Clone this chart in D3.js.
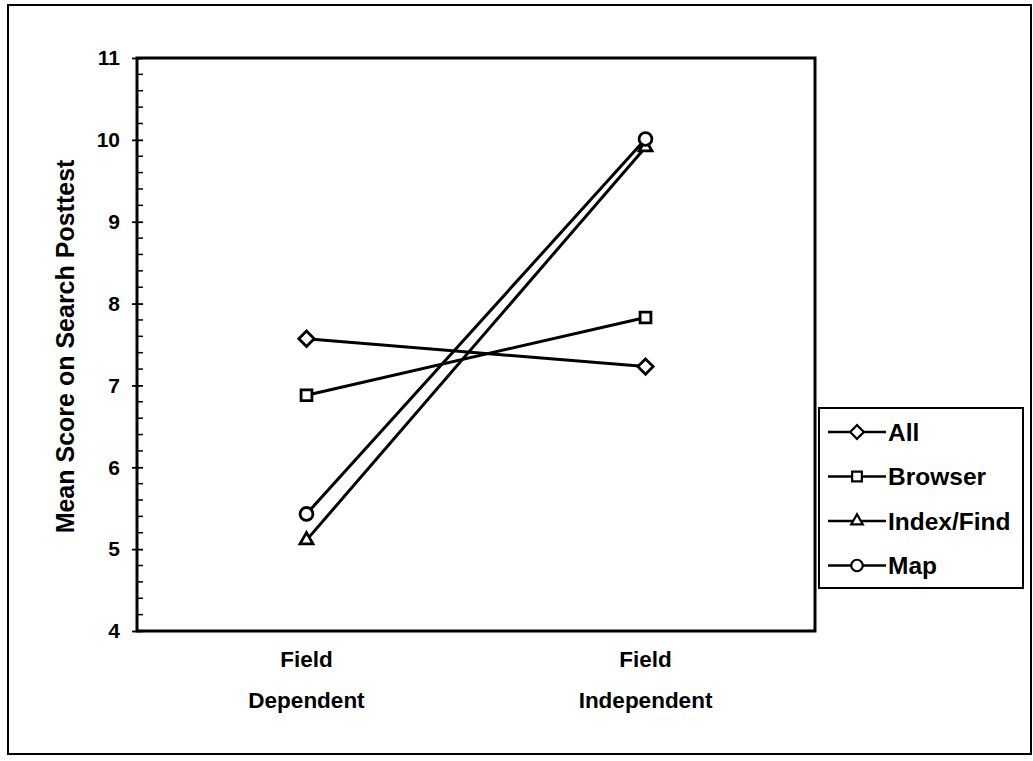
<!DOCTYPE html>
<html><head><meta charset="utf-8">
<script src="https://cdn.jsdelivr.net/npm/d3@7"></script>
<style>body{margin:0;background:#fff}svg{display:block}text{font-family:"Liberation Sans",Arial,sans-serif;font-weight:bold;fill:#000}</style>
</head><body><svg id="c" width="1033" height="761"></svg>
<script>
const categories = ["Field\nDependent", "Field\nIndependent"];
const seriesNames = ["All", "Browser", "Index/Find", "Map"];
const seriesSymbols = ["diamond", "square", "triangle", "circle"];
const allValues = [7.57, 7.23];
const browserValues = [6.88, 7.83];
const indexFindValues = [5.11, 9.91];
const mapValues = [5.43, 10.01];
const yTicks = [4, 5, 6, 7, 8, 9, 10, 11];
const series = [allValues, browserValues, indexFindValues, mapValues];

const svg = d3.select("#c");
const L = 137, R = 815, T = 58, B = 631;
svg.append("rect").attr("x", 8).attr("y", 5).attr("width", 1023).attr("height", 749)
  .attr("fill", "none").attr("stroke", "#000").attr("stroke-width", 2);

const x = d3.scaleBand().domain(categories).range([L, R]).padding(0);
const y = d3.scaleLinear().domain([4, 11]).range([B, T]);

// plot box
svg.append("rect").attr("x", L).attr("y", T).attr("width", R - L).attr("height", B - T)
  .attr("fill", "none").attr("stroke", "#000").attr("stroke-width", 3);

// minor ticks (inside)
const minor = d3.range(4, 11.001, 0.2).filter(v => Math.abs(v - Math.round(v)) > 1e-6);
svg.append("g").selectAll("line").data(minor).join("line")
  .attr("x1", L).attr("x2", L + 6).attr("y1", d => y(d)).attr("y2", d => y(d))
  .attr("stroke", "#000").attr("stroke-width", 1.5);

// major axis
const yAxis = svg.append("g").attr("transform", `translate(${L},0)`)
  .call(d3.axisLeft(y).tickValues(yTicks).tickFormat(d3.format("d")).tickSize(5).tickPadding(12));
yAxis.select(".domain").remove();
yAxis.selectAll(".tick line").attr("x2", -5).attr("x1", 6).attr("stroke-width", 1.8);
yAxis.attr("font-size", null).attr("font-family", null);
yAxis.selectAll("text").attr("font-size", 21).attr("fill", "#000");

// y title
svg.append("text").attr("transform", `translate(74,${(T + B) / 2 + 2}) rotate(-90)`)
  .attr("text-anchor", "middle").attr("font-size", 25)
  .text("Mean Score on Search Posttest");

// x labels
categories.forEach(c => {
  const lines = c.split("\n");
  const t = svg.append("text").attr("text-anchor", "middle").attr("font-size", 22.5);
  lines.forEach((ln, i) => t.append("tspan").attr("x", x(c) + x.bandwidth() / 2)
    .attr("y", 667 + i * 41).text(ln));
});

const symMap = {diamond: d3.symbolDiamond2, square: d3.symbolSquare2, triangle: d3.symbolTriangle2, circle: d3.symbolCircle};
const symSize = {diamond: 150, square: 150, triangle: 120, circle: 130};
const cx = c => x(c) + x.bandwidth() / 2;
const line = d3.line().x((d, i) => cx(categories[i])).y(d => y(d));

series.forEach((vals, si) => {
  svg.append("path").attr("d", line(vals)).attr("fill", "none").attr("stroke", "#000").attr("stroke-width", 3);
});
series.forEach((vals, si) => {
  const s = seriesSymbols[si];
  vals.forEach((v, i) => {
    svg.append("path").attr("d", d3.symbol(symMap[s], symSize[s])())
      .attr("transform", `translate(${cx(categories[i])},${y(v)})`)
      .attr("fill", "#fff").attr("stroke", "#000").attr("stroke-width", 2.8);
  });
});

// legend
svg.append("rect").attr("x", 819).attr("y", 408).attr("width", 204).attr("height", 180)
  .attr("fill", "#fff").attr("stroke", "#000").attr("stroke-width", 2);
seriesNames.forEach((n, i) => {
  const ly = 432 + i * 44.5;
  const s = seriesSymbols[i];
  svg.append("line").attr("x1", 828).attr("x2", 886).attr("y1", ly).attr("y2", ly)
    .attr("stroke", "#000").attr("stroke-width", 2.5);
  svg.append("path").attr("d", d3.symbol(symMap[s], symSize[s] * 0.8)())
    .attr("transform", `translate(857,${ly})`).attr("fill", "#fff").attr("stroke", "#000").attr("stroke-width", 2.2);
  svg.append("text").attr("x", 888).attr("y", ly + 8.5).attr("font-size", 24.5).text(n);
});
</script></body></html>
